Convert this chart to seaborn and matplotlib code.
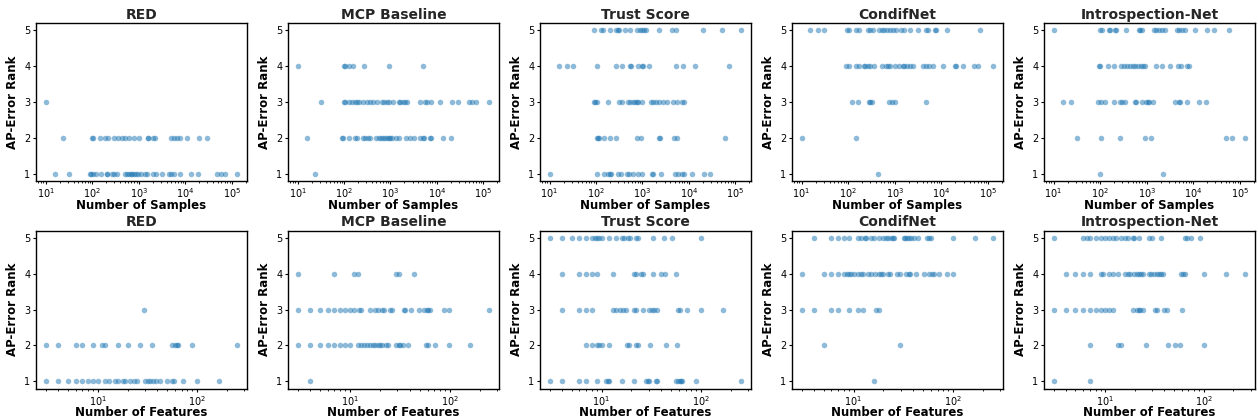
import matplotlib
matplotlib.use("Agg")
import matplotlib.pyplot as plt
import seaborn as sns
import pandas as pd

methods = ["RED", "MCP Baseline", "Trust Score", "CondifNet", "Introspection-Net"]
rank_label = "AP-Error Rank"
x_labels = ["Number of Samples", "Number of Features"]
rank_ticks = [1, 2, 3, 4, 5]

# ---- Number of Samples (top row): rank -> sample counts ----
red_samples = {
    3: [10],
    2: [24, 100, 105, 150, 190, 215, 300, 360, 440, 500, 620, 800, 1000, 1600, 1620,
        2050, 2250, 5000, 5800, 6700, 7600, 11000, 20000, 29000],
    1: [16, 32, 90, 96, 104, 119, 152, 205, 210, 272, 295, 348, 500, 570, 620, 673, 731,
        794, 861, 967, 1100, 1400, 1540, 2070, 2320, 3230, 4490, 5040, 5750, 7620,
        13100, 19200, 49200, 58000, 70600, 132000],
}
mcp_samples = {
    4: [10, 100, 107, 127, 160, 263, 910, 4950],
    3: [32, 100, 107, 130, 150, 170, 190, 215, 260, 310, 370, 430, 520, 650, 730, 830,
        950, 1150, 1520, 1600, 1870, 2050, 2250, 4300, 5600, 6000, 7500, 11500, 21000,
        29000, 50000, 58000, 69000, 135000],
    2: [16, 90, 97, 127, 170, 190, 260, 290, 330, 370, 480, 560, 620, 700, 780, 850,
        930, 1000, 1100, 1300, 1550, 2150, 2600, 3200, 4300, 4900, 5400, 7000, 7500,
        13500, 20000],
    1: [24],
}
trust_samples = {
    5: [90, 126, 143, 200, 275, 292, 315, 430, 550, 770, 900, 1000, 1100, 1200, 2240,
        4400, 5200, 19800, 51000, 135000],
    4: [16, 24, 32, 106, 275, 365, 550, 570, 800, 1000, 1050, 1370, 5200, 7500, 13700,
        72000],
    3: [90, 97, 105, 180, 320, 365, 480, 550, 620, 680, 750, 800, 1000, 1500, 1700,
        1950, 2300, 2800, 3300, 4600, 5500, 7000, 7800],
    2: [103, 110, 118, 148, 200, 275, 760, 930, 2220, 2400, 4700, 5600, 60000],
    1: [10, 105, 148, 180, 200, 215, 295, 340, 460, 520, 620, 800, 1000, 1600, 1700,
        2500, 5000, 5700, 7000, 8000, 11500, 21000, 29000],
}
condif_samples = {
    5: [15.5, 23, 31, 95, 103, 147, 168, 262, 295, 336, 450, 520, 600, 680, 780, 900,
        1050, 1350, 1600, 2150, 3200, 4600, 5200, 7200, 7500, 13000, 67000],
    4: [92, 103, 150, 170, 215, 230, 262, 290, 350, 530, 650, 700, 770, 1000, 1200, 1500,
        1600, 1800, 2100, 2500, 4000, 4600, 5300, 6700, 11000, 19500, 20500, 29000,
        50000, 60000, 130000],
    3: [120, 165, 275, 295, 325, 740, 870, 1000, 4700],
    2: [10, 148],
    1: [440],
}
intro_samples = {
    5: [10, 100, 108, 152, 165, 205, 220, 360, 670, 730, 800, 1470, 1600, 1850, 2100,
        2500, 4500, 5000, 5700, 6500, 11000, 20000, 28500, 60000],
    4: [93, 100, 148, 200, 285, 330, 380, 440, 520, 570, 650, 740, 830, 930, 1600, 2100,
        3200, 4700, 5600, 7500, 8000],
    3: [16, 24, 90, 104, 129, 195, 270, 300, 345, 550, 600, 800, 950, 1050, 1150, 1400,
        4100, 5000, 5200, 7300, 13000, 19000],
    2: [32, 104, 272, 930, 1230, 50000, 67000, 132000],
    1: [100, 2200],
}

# ---- Number of Features (bottom row): rank -> feature counts ----
red_features = {
    3: [29],
    2: [3, 4, 6, 7, 9, 11, 12, 16, 20, 27, 35, 56, 60, 63, 64, 89, 255],
    1: [3, 4, 5, 6, 7, 8, 9, 10, 12, 13, 15, 16, 18, 19, 21, 23, 25, 30, 32, 34, 36,
        39, 42, 50, 56, 59, 72, 100, 165],
}
mcp_features = {
    4: [3, 7, 11, 12, 29, 31, 44],
    3: [3, 4, 5, 6, 7, 8, 9, 10, 11, 12.5, 13, 16, 18, 19, 21, 22, 25, 26.5, 35, 35.5,
        41, 49, 55, 59, 61, 64, 88, 98, 250],
    2: [3, 4, 5, 6, 7, 8, 9, 10, 12, 13, 14, 15, 16, 17, 18, 19, 20, 21, 23, 24, 29,
        31, 32, 34, 38, 58, 60, 71, 98, 160],
    1: [4],
}
trust_features = {
    5: [3, 4, 5, 6, 7, 8, 8.5, 9, 9.5, 10, 12, 14, 16, 17, 18.5, 19.5, 22, 23, 33, 42,
        51, 100],
    4: [4, 6, 7, 8, 9, 13, 21, 22, 25, 26, 33, 40, 43, 56],
    3: [4, 6, 7, 8, 13, 14, 15.5, 16.5, 17.5, 21, 22, 26, 30, 32, 34, 36, 59, 62, 73,
        100, 168],
    2: [7, 8, 9, 9.5, 10, 12, 18, 19, 22, 23, 31, 45, 57],
    1: [3, 4, 6, 7, 9, 11, 11.5, 12, 16, 21, 28, 29, 30, 35, 36, 56, 59, 62, 63, 65,
        89, 255],
}
condif_features = {
    5: [4, 6, 7, 8, 9, 11, 12, 13, 13.5, 15, 16, 18, 20, 21, 22, 24, 25, 25.5, 32, 33,
        34.5, 36, 38, 41, 44, 55, 58, 60, 100, 165, 255],
    4: [3, 5, 6, 7, 8, 8.5, 9, 9.5, 10, 11, 12, 12.5, 14, 15, 16.5, 18, 19, 20, 22, 23,
        27.5, 29, 34, 36, 37, 42, 51, 58, 61, 64, 72, 87, 100],
    3: [3, 4, 6, 7, 9, 11, 12.5, 17, 18],
    2: [5, 29],
    1: [16],
}
intro_features = {
    5: [3, 6, 6.5, 7, 8, 9, 10, 11, 12, 13, 14.5, 16, 17, 19, 19.5, 22, 28, 30, 37, 64,
        67, 74, 92],
    4: [4, 5, 6, 7, 9, 9.5, 11, 12, 13.5, 16, 17, 18, 19.5, 21, 22, 23, 24, 28, 29, 31,
        34, 35, 37, 39, 59, 62, 64, 100, 170, 265],
    3: [3, 4, 5, 6, 7, 8, 9, 10, 11, 12, 19, 21, 22, 22.5, 24.5, 32, 34, 40, 42, 60],
    2: [7, 13.5, 14.5, 26, 43, 51, 57, 100],
    1: [3, 7],
}

rows = [
    [red_samples, mcp_samples, trust_samples, condif_samples, intro_samples],
    [red_features, mcp_features, trust_features, condif_features, intro_features],
]

sns.set_style("ticks")
plt.rcParams["font.family"] = ["DejaVu Sans"]
plt.rcParams["axes.edgecolor"] = "black"
plt.rcParams["axes.labelcolor"] = "black"
plt.rcParams["xtick.color"] = "black"
plt.rcParams["ytick.color"] = "black"
plt.rcParams["xtick.labelcolor"] = "black"
plt.rcParams["ytick.labelcolor"] = "black"

fig, axes = plt.subplots(2, 5, figsize=(12.58, 4.2), dpi=100)
fig.subplots_adjust(left=0.0286, right=0.9976, top=0.945, bottom=0.075,
                    wspace=0.194, hspace=0.315)

for r, row in enumerate(rows):
    for c, data in enumerate(row):
        ax = axes[r, c]
        xs, ys = [], []
        for rank, vals in data.items():
            xs.extend(vals)
            ys.extend([rank] * len(vals))
        df = pd.DataFrame({"x": xs, "rank": ys})
        sns.scatterplot(data=df, x="x", y="rank", ax=ax, color="#1f77b4",
                        alpha=0.5, s=16, linewidth=0)
        ax.set_xscale("log")
        ax.set_ylim(0.8, 5.2)
        ax.set_yticks(rank_ticks)
        ax.set_title(methods[c], fontsize=10, fontweight="bold", pad=3)
        ax.set_xlabel(x_labels[r], fontsize=8.5, fontweight="bold", labelpad=-1)
        ax.set_ylabel(rank_label, fontsize=8.5, fontweight="bold", labelpad=4)
        ax.tick_params(axis="both", which="major", labelsize=7, length=2.5,
                       width=0.8, pad=1.5)
        ax.tick_params(axis="x", which="minor", length=1.5, width=0.6)
        for sp in ax.spines.values():
            sp.set_linewidth(1.0)

fig.savefig("out.png", dpi=100)
